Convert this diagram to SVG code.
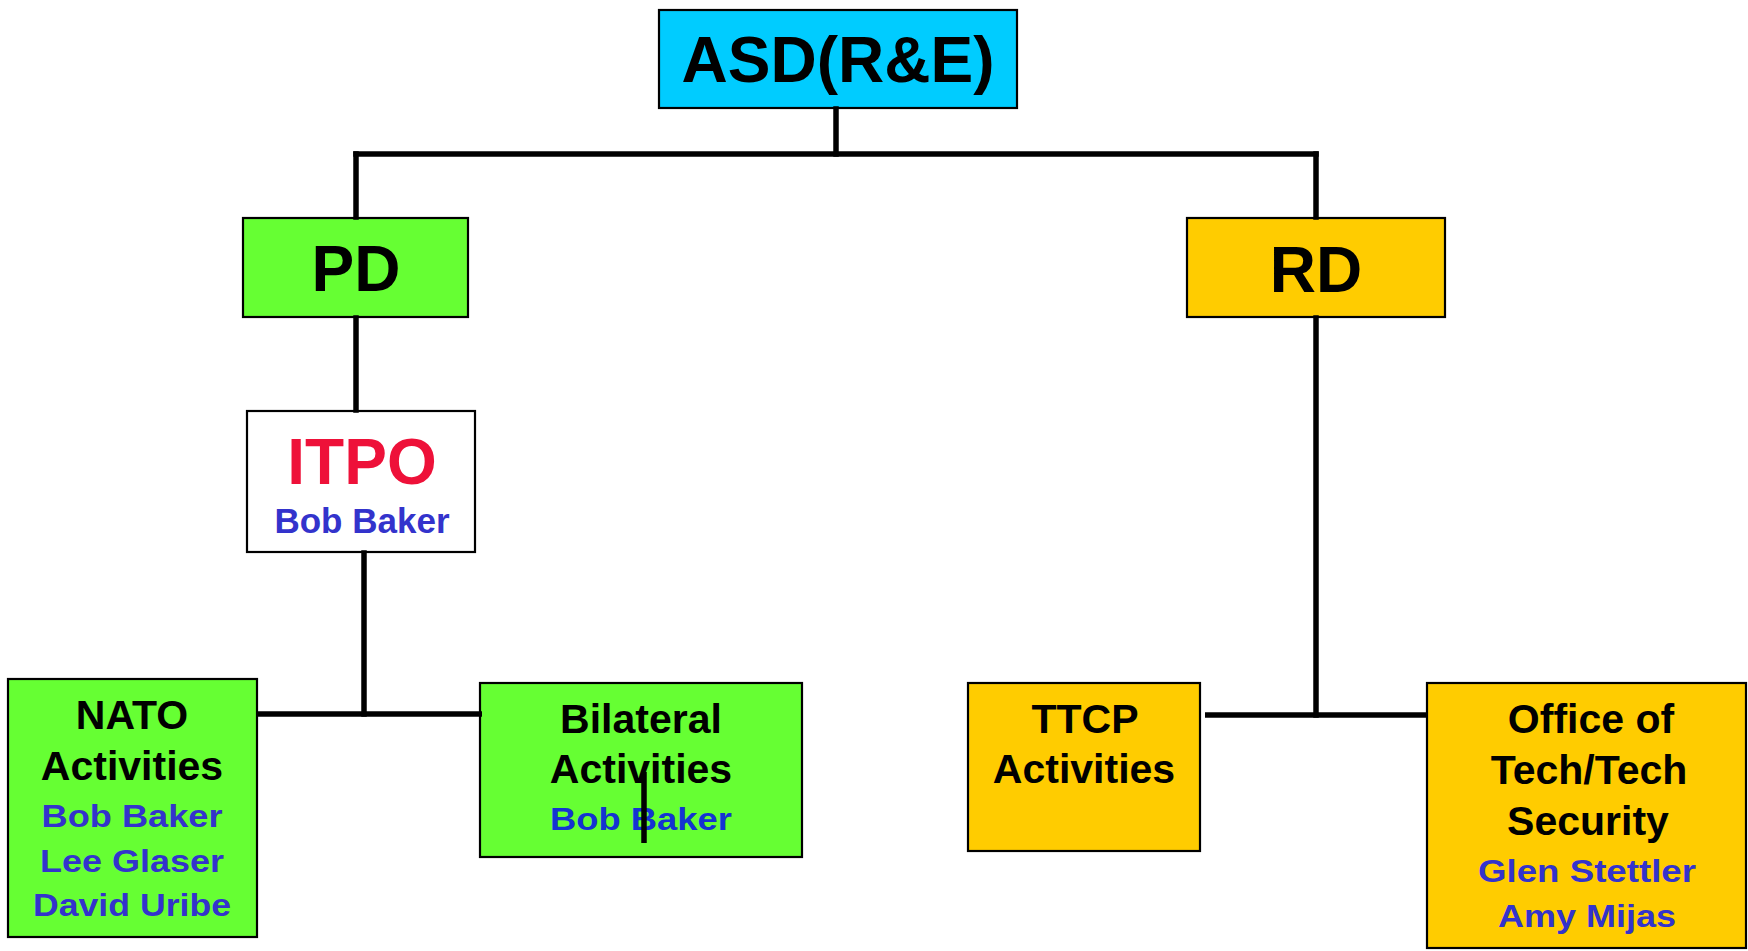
<svg xmlns="http://www.w3.org/2000/svg" width="1748" height="951" viewBox="0 0 1748 951">
<style>
  .box { stroke: #000; stroke-width: 2.2; }
  .cyan { fill: #00ccff; }
  .green { fill: #66ff33; }
  .gold { fill: #ffcc00; }
  .white { fill: #ffffff; }
  text { font-family: "Liberation Sans", Arial, sans-serif; font-weight: bold; text-anchor: middle; }
  .big { font-size: 64px; fill: #000; }
  .lbl { font-size: 41px; fill: #000; }
  .name { font-size: 32px; fill: #3333cc; }
  .name2 { font-size: 32px; fill: #1433d2; }
  .red { font-size: 64px; fill: #ee1139; }
  .conn { stroke: #000; stroke-width: 5.5; fill: none; stroke-linecap: square; }
</style>
<rect width="1748" height="951" fill="#ffffff"/>
<g id="asd">
  <rect class="box cyan" x="659" y="10" width="358" height="98"/>
  <text class="big" x="838" y="82">ASD(R&amp;E)</text>
</g>
<g id="pd">
  <rect class="box green" x="243" y="218" width="225" height="99"/>
  <text class="big" x="356" y="291">PD</text>
</g>
<g id="rd">
  <rect class="box gold" x="1187" y="218" width="258" height="99"/>
  <text class="big" x="1316" y="292">RD</text>
</g>
<g id="itpo">
  <rect class="box white" x="247" y="411" width="228" height="141"/>
  <text class="red" x="362" y="484">ITPO</text>
  <text class="name" x="362" y="533" style="font-size:35px">Bob Baker</text>
</g>
<g id="nato">
  <rect class="box green" x="8" y="679" width="249" height="258"/>
  <text class="lbl" x="132" y="729">NATO</text>
  <text class="lbl" x="132" y="780">Activities</text>
  <text class="name" x="132" y="827" textLength="181" lengthAdjust="spacingAndGlyphs">Bob Baker</text>
  <text class="name" x="132" y="872" textLength="184" lengthAdjust="spacingAndGlyphs">Lee Glaser</text>
  <text class="name" x="132" y="916" textLength="198" lengthAdjust="spacingAndGlyphs">David Uribe</text>
</g>
<g id="bilateral">
  <rect class="box green" x="480" y="683" width="322" height="174"/>
  <text class="lbl" x="641" y="733">Bilateral</text>
  <text class="lbl" x="641" y="783">Activities</text>
  <text class="name2" x="641" y="830" textLength="182" lengthAdjust="spacingAndGlyphs">Bob Baker</text>
</g>
<g id="ttcp">
  <rect class="box gold" x="968" y="683" width="232" height="168"/>
  <text class="lbl" x="1085" y="733">TTCP</text>
  <text class="lbl" x="1084" y="783">Activities</text>
</g>
<g id="office">
  <rect class="box gold" x="1427" y="683" width="319" height="265"/>
  <text class="lbl" x="1591" y="733">Office of</text>
  <text class="lbl" x="1589" y="784">Tech/Tech</text>
  <text class="lbl" x="1588" y="835">Security</text>
  <text class="name" x="1587" y="882" textLength="218" lengthAdjust="spacingAndGlyphs">Glen Stettler</text>
  <text class="name" x="1587" y="927" textLength="178" lengthAdjust="spacingAndGlyphs">Amy Mijas</text>
</g>
<g id="connectors">
  <line class="conn" x1="836" y1="109" x2="836" y2="154"/>
  <line class="conn" x1="356" y1="154" x2="1316" y2="154"/>
  <line class="conn" x1="356" y1="154" x2="356" y2="217"/>
  <line class="conn" x1="1316" y1="154" x2="1316" y2="217"/>
  <line class="conn" x1="356" y1="318" x2="356" y2="410"/>
  <line class="conn" x1="364" y1="553" x2="364" y2="714"/>
  <line class="conn" x1="258" y1="714" x2="482" y2="714" style="stroke-linecap:butt"/>
  <line class="conn" x1="1316" y1="318" x2="1316" y2="715"/>
  <line class="conn" x1="1205" y1="715" x2="1428" y2="715" style="stroke-linecap:butt"/>
  <line class="conn" x1="644" y1="772" x2="644" y2="843" style="stroke-linecap:butt"/>
</g>
</svg>
